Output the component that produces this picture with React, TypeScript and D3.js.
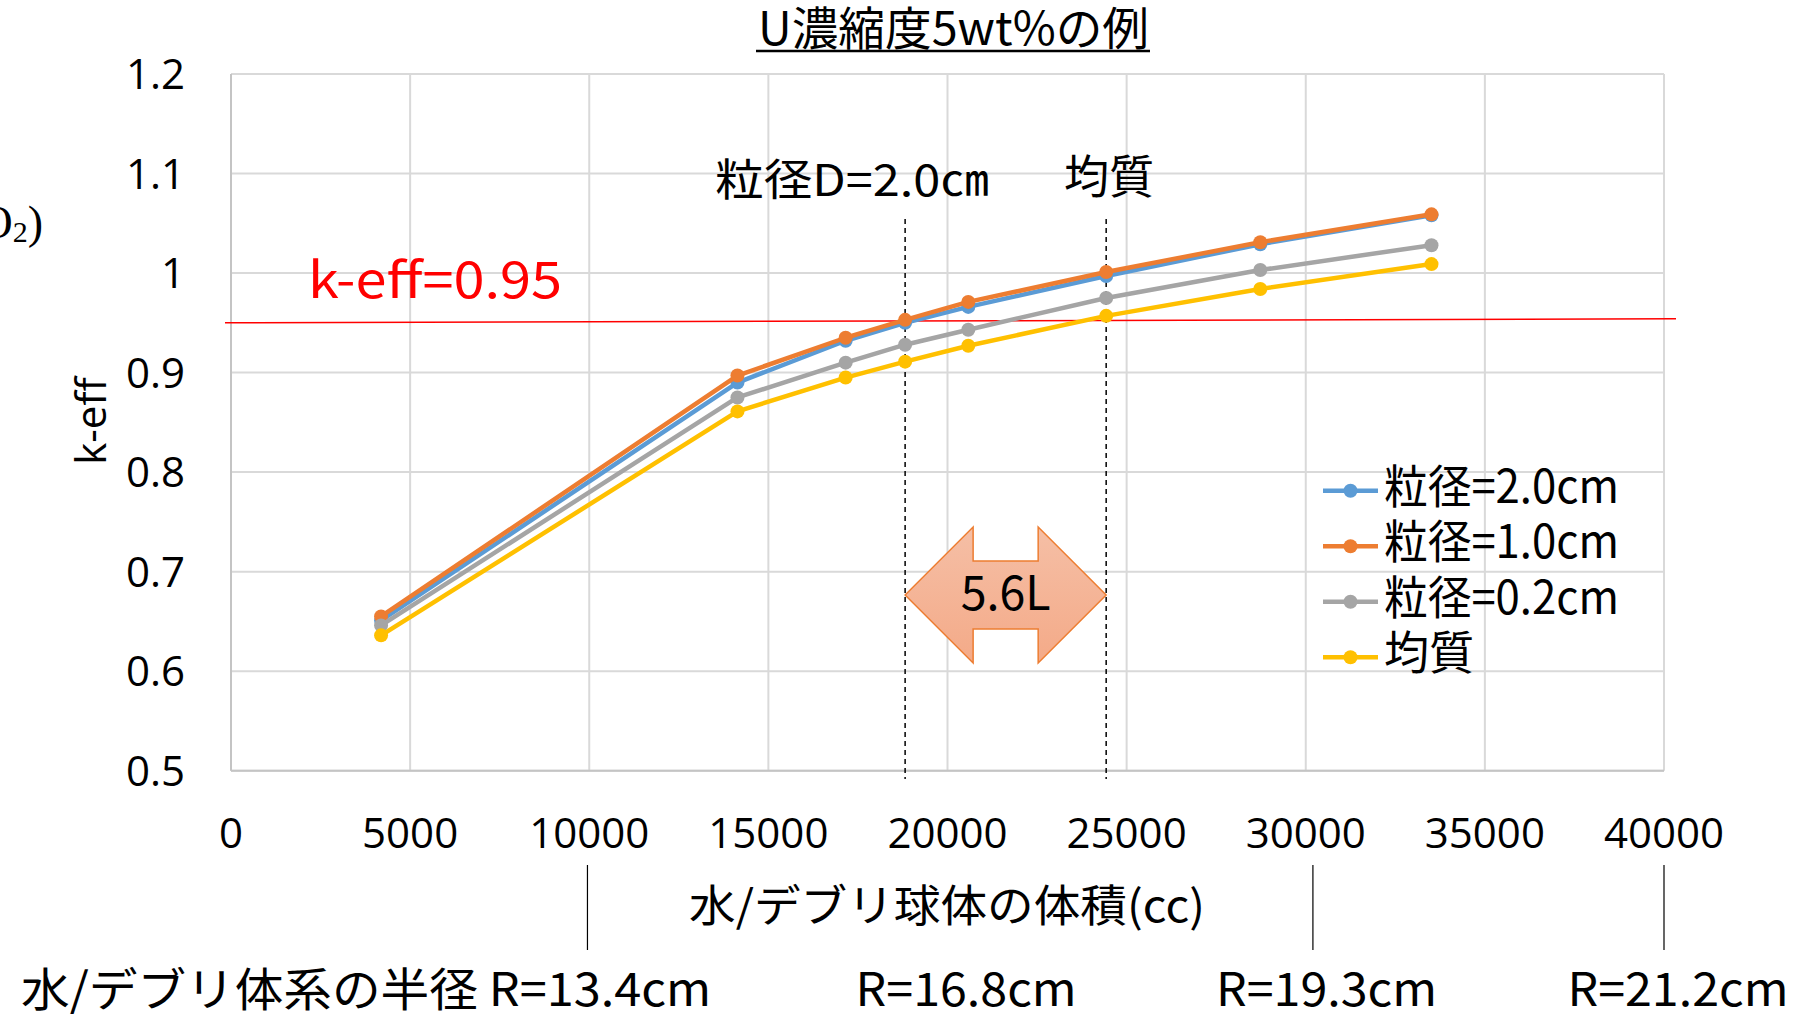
import React from "react";
import * as d3 from "d3";

// Water/debris sphere volume (cc) for each calculated case
const volumes = [4189, 14137, 17157, 18817, 20580, 24429, 28731, 33510];

// k-eff per particle size
const keffD20 = [0.651, 0.89, 0.932, 0.95, 0.966, 0.997, 1.029, 1.058];
const keffD10 = [0.655, 0.897, 0.935, 0.953, 0.971, 1.001, 1.031, 1.059];
const keffD02 = [0.646, 0.875, 0.91, 0.928, 0.943, 0.975, 1.003, 1.028];
const keffHomog = [0.636, 0.861, 0.895, 0.911, 0.927, 0.957, 0.984, 1.009];

const seriesNames = ["粒径=2.0cm", "粒径=1.0cm", "粒径=0.2cm", "均質"];
const seriesColors = ["#5B9BD5", "#ED7D31", "#A5A5A5", "#FFC000"];
const seriesValues = [keffD20, keffD10, keffD02, keffHomog];

const xTicks = [0, 5000, 10000, 15000, 20000, 25000, 30000, 35000, 40000];
const yTicks = [0.5, 0.6, 0.7, 0.8, 0.9, 1.0, 1.1, 1.2];

const keffLimit = 0.95;

// System radius annotations below the axis
const radiusLabels = ["水/デブリ体系の半径 R=13.4cm", "R=16.8cm", "R=19.3cm", "R=21.2cm"];
const radiusLabelVolumes = [3770, 20520, 30580, 40390];
const radiusMarkVolumes = [9950, 30200, 40000];

const JP = '"Noto Sans CJK JP", "Noto Sans", sans-serif';
const NUM = '"Open Sans", "Noto Sans", sans-serif';

export default function App() {
  const W = 1808;
  const H = 1014;
  const x = d3.scaleLinear().domain([0, 40000]).range([231, 1664]);
  const y = d3.scaleLinear().domain([0.5, 1.2]).range([770.7, 74]);

  const line = d3
    .line<[number, number]>()
    .x((d) => x(d[0]))
    .y((d) => y(d[1]));

  const fmtY = (v: number) => (v === 1 ? "1" : d3.format(".1f")(v));

  // bracket of the 0.95 crossing: D=2.0cm case vs homogeneous case
  const xa = x(volumes[3]);
  const xb = x(volumes[5]);
  const acy = 595;
  const headLen = 68;
  const headHalf = 68;
  const shaftHalf = 34;
  const arrowPath = [
    [xa, acy],
    [xa + headLen, acy - headHalf],
    [xa + headLen, acy - shaftHalf],
    [xb - headLen, acy - shaftHalf],
    [xb - headLen, acy - headHalf],
    [xb, acy],
    [xb - headLen, acy + headHalf],
    [xb - headLen, acy + shaftHalf],
    [xa + headLen, acy + shaftHalf],
    [xa + headLen, acy + headHalf],
  ]
    .map((p, i) => `${i === 0 ? "M" : "L"}${p[0]},${p[1]}`)
    .join(" ") + " Z";

  const legendX = 1323;
  const legendY0 = 490.7;
  const legendStep = 55.5;
  const legendWidths = [235, 235, 235, 90];

  return (
    <svg
      width={W}
      height={H}
      viewBox={`0 0 ${W} ${H}`}
      style={{ position: "absolute", left: 0, top: 0, background: "#fff" }}
    >
      <defs>
        <linearGradient id="arrowFill" x1="0" y1="0" x2="0" y2="1">
          <stop offset="0" stopColor="#F5BFA6" />
          <stop offset="1" stopColor="#F4AA88" />
        </linearGradient>
      </defs>
      <rect x={0} y={0} width={W} height={H} fill="#fff" />

      {/* gridlines */}
      {yTicks.map((t) => (
        <line key={"gy" + t} x1={x(0)} x2={x(40000)} y1={y(t)} y2={y(t)} stroke="#D9D9D9" strokeWidth={2} />
      ))}
      {xTicks.map((t) => (
        <line key={"gx" + t} x1={x(t)} x2={x(t)} y1={y(1.2)} y2={y(0.5)} stroke="#D9D9D9" strokeWidth={2} />
      ))}
      <line x1={x(0)} x2={x(40000)} y1={y(0.5)} y2={y(0.5)} stroke="#C4C4C4" strokeWidth={2} />
      <line x1={x(0)} x2={x(0)} y1={y(1.2)} y2={y(0.5)} stroke="#C4C4C4" strokeWidth={2} />

      {/* y tick labels */}
      {yTicks.map((t) => (
        <text key={"ty" + t} x={185} y={y(t)} dy="0.36em" textAnchor="end" fontFamily={NUM} fontSize={42} fill="#000">
          {fmtY(t)}
        </text>
      ))}
      {/* x tick labels */}
      {xTicks.map((t) => (
        <text key={"tx" + t} x={x(t)} y={848} textAnchor="middle" fontFamily={NUM} fontSize={42} fill="#000">
          {t}
        </text>
      ))}

      {/* axis titles */}
      <text transform="translate(106,421) rotate(-90)" textAnchor="middle" fontFamily={NUM} fontSize={42} fill="#000">
        k-eff
      </text>
      <text x={689} y={922} fontFamily={JP} fontSize={44} textLength={516} lengthAdjust="spacingAndGlyphs" fill="#000">
        水/デブリ球体の体積(cc)
      </text>

      {/* partial formula at the left edge */}
      <text x={43} y={238} textAnchor="end" fontFamily='"Liberation Serif", "DejaVu Serif", serif' fontSize={46} fill="#000">
        UO
        <tspan fontSize={30} dy={4}>2</tspan>
        <tspan dy={-4}>)</tspan>
      </text>

      {/* title */}
      <text x={758} y={45} fontFamily={JP} fontSize={46} textLength={391} lengthAdjust="spacingAndGlyphs" fill="#000">
        U濃縮度5wt%の例
      </text>
      <line x1={756} x2={1150} y1={51} y2={51} stroke="#000" strokeWidth={2.5} />

      {/* k-eff limit */}
      <line
        x1={x(0) - 6}
        x2={x(40000) + 12}
        y1={y(keffLimit)}
        y2={y(keffLimit) - 4}
        stroke="#FF0000"
        strokeWidth={1.5}
      />
      <text x={308} y={298} fontFamily={JP} fontSize={50} textLength={254} lengthAdjust="spacingAndGlyphs" fill="#FF0000">
        k-eff=0.95
      </text>

      {/* dashed crossing markers */}
      {[xa, xb].map((xx, i) => (
        <line key={"dash" + i} x1={xx} x2={xx} y1={219} y2={779} stroke="#000" strokeWidth={1.5} strokeDasharray="5 4" />
      ))}
      <text x={715} y={196} fontFamily={JP} fontSize={44} textLength={274} lengthAdjust="spacingAndGlyphs" fill="#000">
        粒径D=2.0㎝
      </text>
      <text x={1064} y={193} fontFamily={JP} fontSize={46} textLength={90} lengthAdjust="spacingAndGlyphs" fill="#000">
        均質
      </text>

      {/* series */}
      {seriesValues.map((vals, si) => {
        const pts = vals.map((v, i) => [volumes[i], v] as [number, number]);
        return (
          <g key={"s" + si}>
            <path d={line(pts) || ""} fill="none" stroke={seriesColors[si]} strokeWidth={4.5} strokeLinejoin="round" />
            {pts.map((p, i) => (
              <circle key={i} cx={x(p[0])} cy={y(p[1])} r={7} fill={seriesColors[si]} />
            ))}
          </g>
        );
      })}

      {/* double arrow with volume difference */}
      <path d={arrowPath} fill="url(#arrowFill)" stroke="#ED7D31" strokeWidth={1.5} />
      <text
        x={(xa + xb) / 2}
        y={610}
        textAnchor="middle"
        fontFamily={JP}
        fontSize={48}
        textLength={90}
        lengthAdjust="spacingAndGlyphs"
        fill="#000"
      >
        5.6L
      </text>

      {/* legend */}
      {seriesNames.map((name, i) => {
        const ly = legendY0 + i * legendStep;
        return (
          <g key={"lg" + i}>
            <line x1={legendX} x2={legendX + 55} y1={ly} y2={ly} stroke={seriesColors[i]} strokeWidth={4.5} />
            <circle cx={legendX + 27.5} cy={ly} r={7} fill={seriesColors[i]} />
            <text
              x={1384}
              y={ly + 12}
              fontFamily={JP}
              fontSize={46}
              textLength={legendWidths[i]}
              lengthAdjust="spacingAndGlyphs"
              fill="#000"
            >
              {name}
            </text>
          </g>
        );
      })}

      {/* radius annotations */}
      {radiusMarkVolumes.map((v, i) => (
        <line key={"rm" + i} x1={x(v)} x2={x(v)} y1={865} y2={950} stroke="#000" strokeWidth={1.2} />
      ))}
      {radiusLabels.map((lab, i) => (
        <text
          key={"rl" + i}
          x={x(radiusLabelVolumes[i])}
          y={1006}
          textAnchor="middle"
          fontFamily={JP}
          fontSize={46}
          textLength={i === 0 ? 690 : 221}
          lengthAdjust="spacingAndGlyphs"
          fill="#000"
        >
          {lab}
        </text>
      ))}
    </svg>
  );
}
